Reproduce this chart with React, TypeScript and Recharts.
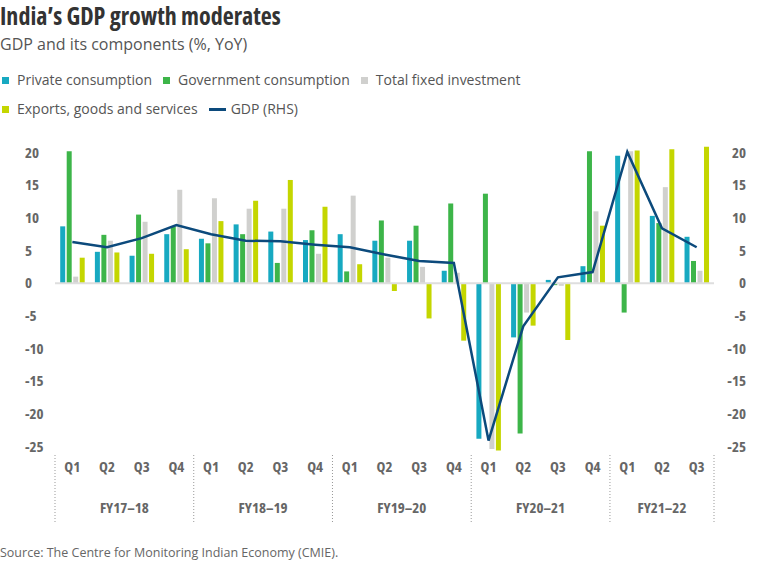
import { ComposedChart, Bar, Line, XAxis, YAxis, ReferenceLine } from 'recharts'

const quarters = ['Q1', 'Q2', 'Q3', 'Q4', 'Q1', 'Q2', 'Q3', 'Q4', 'Q1', 'Q2', 'Q3', 'Q4', 'Q1', 'Q2', 'Q3', 'Q4', 'Q1', 'Q2', 'Q3']
const fiscalYears = ['FY17–18', 'FY18–19', 'FY19–20', 'FY20–21', 'FY21–22']
const quartersPerYear = [4, 4, 4, 4, 3]

const privateConsumption = [8.7, 4.8, 4.2, 7.5, 6.8, 9.0, 7.9, 6.6, 7.5, 6.5, 6.5, 1.9, -23.8, -8.3, 0.5, 2.6, 19.5, 10.3, 7.1]
const governmentConsumption = [20.2, 7.4, 10.5, 8.7, 6.1, 7.5, 3.1, 8.1, 1.8, 9.6, 8.8, 12.2, 13.7, -23.0, -0.3, 20.2, -4.5, 9.2, 3.4]
const fixedInvestment = [1.0, 6.5, 9.4, 14.3, 13.0, 11.4, 11.4, 4.5, 13.4, 3.9, 2.5, 1.6, -25.4, -4.5, -0.4, 11.0, 20.2, 14.7, 1.9]
const exportsGoods = [3.9, 4.7, 4.5, 5.2, 9.5, 12.6, 15.8, 11.7, 2.9, -1.2, -5.4, -8.8, -25.6, -6.5, -8.7, 8.8, 20.3, 20.5, 20.9]
const gdp = [6.3, 5.5, 6.9, 8.9, 7.5, 6.5, 6.4, 5.9, 5.5, 4.4, 3.4, 3.1, -24.1, -6.6, 0.9, 1.7, 20.1, 8.4, 5.5]

const yTicks = [-25, -20, -15, -10, -5, 0, 5, 10, 15, 20]

const COLORS = {
  private: '#17a9c1',
  government: '#3db549',
  investment: '#d0d0ce',
  exports: '#c4d600',
  gdp: '#0c4a7c',
}

// chart geometry
const CHART_W = 772
const CHART_H = 447
const MARGIN = { top: 26, right: 8, bottom: 34, left: 25 }
const LEFT_AXIS_W = 30
const RIGHT_AXIS_W = 50
const PLOT_W = CHART_W - MARGIN.left - MARGIN.right - LEFT_AXIS_W - RIGHT_AXIS_W
const BAND = PLOT_W / quarters.length

const FONT = '"Open Sans", sans-serif'
const AXIS_TEXT = { fontFamily: FONT, fontSize: 15, fontWeight: 700, fill: '#666', fontStretch: '75%' } as const

// which fiscal year each quarter belongs to
const yearOfQuarter: number[] = []
const yearStart: number[] = []
quartersPerYear.forEach((n, g) => {
  yearStart.push(yearOfQuarter.length)
  for (let k = 0; k < n; k++) yearOfQuarter.push(g)
})

const data = quarters.map((q, i) => ({
  id: `${fiscalYears[yearOfQuarter[i]]} ${q}`,
  q,
  private: privateConsumption[i],
  government: governmentConsumption[i],
  investment: fixedInvestment[i],
  exports: exportsGoods[i],
  gdp: gdp[i],
}))

function QuarterTick(props: any) {
  const { x, y, index } = props
  const g = yearOfQuarter[index]
  const start = yearStart[g]
  const n = quartersPerYear[g]
  const center = start + (n - 1) / 2
  const showYear = Math.floor(center) === index
  const yearX = x + (center - index) * BAND
  const sep = { stroke: '#999', strokeWidth: 1, strokeDasharray: '1 2' }
  return (
    <g>
      <text x={x} y={y + 14} dy="0.35em" textAnchor="middle" style={AXIS_TEXT}>
        {quarters[index]}
      </text>
      {index === start && <line x1={x - BAND / 2} x2={x - BAND / 2} y1={y + 2} y2={y + 69} {...sep} />}
      {index === quarters.length - 1 && <line x1={x + BAND / 2} x2={x + BAND / 2} y1={y + 2} y2={y + 69} {...sep} />}
      {showYear && (
        <text x={yearX} y={y + 55} dy="0.35em" textAnchor="middle" style={AXIS_TEXT}>
          {fiscalYears[g]}
        </text>
      )}
    </g>
  )
}

function LeftTick(props: any) {
  const { x, y, payload } = props
  return (
    <text x={x - LEFT_AXIS_W} y={y} dy="0.35em" textAnchor="start" style={AXIS_TEXT}>
      {payload.value}
    </text>
  )
}

function RightTick(props: any) {
  const { x, y, payload } = props
  return (
    <text x={x + 32} y={y} dy="0.35em" textAnchor="end" style={AXIS_TEXT}>
      {payload.value}
    </text>
  )
}

const legendRows = [
  [
    { label: 'Private consumption', color: COLORS.private },
    { label: 'Government consumption', color: COLORS.government },
    { label: 'Total fixed investment', color: COLORS.investment },
  ],
  [
    { label: 'Exports, goods and services', color: COLORS.exports },
    { label: 'GDP (RHS)', color: COLORS.gdp, line: true },
  ],
]

function LegendRow({ items, top }: { items: any[]; top: number }) {
  return (
    <div style={{ position: 'absolute', left: 2, top, display: 'flex', alignItems: 'center', height: 20 }}>
      {items.map(it => (
        <div key={it.label} style={{ display: 'flex', alignItems: 'center', marginRight: 11 }}>
          {it.line ? (
            <span style={{ width: 17, height: 3, background: it.color, marginRight: 5 }} />
          ) : (
            <span style={{ width: 7, height: 7, background: it.color, marginRight: 8 }} />
          )}
          <span style={{ fontSize: 14, color: '#555', lineHeight: '20px' }}>{it.label}</span>
        </div>
      ))}
    </div>
  )
}

export default function App() {
  return (
    <div style={{ position: 'absolute', left: 0, top: 0, width: 772, height: 567, background: '#fff', fontFamily: FONT }}>
      <div style={{ position: 'absolute', left: 0, top: 2, fontSize: 24, lineHeight: '28px', fontWeight: 700, color: '#333', fontStretch: '75%', whiteSpace: 'nowrap' }}>
        India’s GDP growth moderates
      </div>
      <div style={{ position: 'absolute', left: 0, top: 34, fontSize: 16, lineHeight: '20px', color: '#555', whiteSpace: 'nowrap' }}>
        GDP and its components (%, YoY)
      </div>
      <LegendRow items={legendRows[0]} top={70} />
      <LegendRow items={legendRows[1]} top={99} />

      <div style={{ position: 'absolute', left: 0, top: 120 }}>
        <ComposedChart
          width={CHART_W}
          height={CHART_H}
          data={data}
          margin={MARGIN}
          barCategoryGap="15%"
          barGap={1.5}
        >
          <XAxis
            dataKey="id"
            interval={0}
            axisLine={false}
            tickLine={false}
            tickSize={0}
            tickMargin={0}
            height={80}
            tick={<QuarterTick />}
          />
          <YAxis
            yAxisId="left"
            width={LEFT_AXIS_W}
            domain={[-26, 21]}
            allowDataOverflow
            ticks={yTicks}
            interval={0}
            axisLine={false}
            tickLine={false}
            tickSize={0}
            tickMargin={0}
            tick={<LeftTick />}
          />
          <YAxis
            yAxisId="right"
            orientation="right"
            width={RIGHT_AXIS_W}
            domain={[-26, 21]}
            allowDataOverflow
            ticks={yTicks}
            interval={0}
            axisLine={false}
            tickLine={false}
            tickSize={0}
            tickMargin={0}
            tick={<RightTick />}
          />
          <ReferenceLine yAxisId="left" y={0} stroke="#dedede" strokeWidth={2} />
          <Bar yAxisId="left" dataKey="private" name="Private consumption" fill={COLORS.private} isAnimationActive={false} />
          <Bar yAxisId="left" dataKey="government" name="Government consumption" fill={COLORS.government} isAnimationActive={false} />
          <Bar yAxisId="left" dataKey="investment" name="Total fixed investment" fill={COLORS.investment} isAnimationActive={false} />
          <Bar yAxisId="left" dataKey="exports" name="Exports, goods and services" fill={COLORS.exports} isAnimationActive={false} />
          <Line
            yAxisId="right"
            type="linear"
            dataKey="gdp"
            name="GDP (RHS)"
            stroke={COLORS.gdp}
            strokeWidth={2.5}
            dot={false}
            isAnimationActive={false}
          />
        </ComposedChart>
      </div>

      <div style={{ position: 'absolute', left: 0, top: 544, fontSize: 12.5, lineHeight: '18px', color: '#666', whiteSpace: 'nowrap' }}>
        Source: The Centre for Monitoring Indian Economy (CMIE).
      </div>
    </div>
  )
}
